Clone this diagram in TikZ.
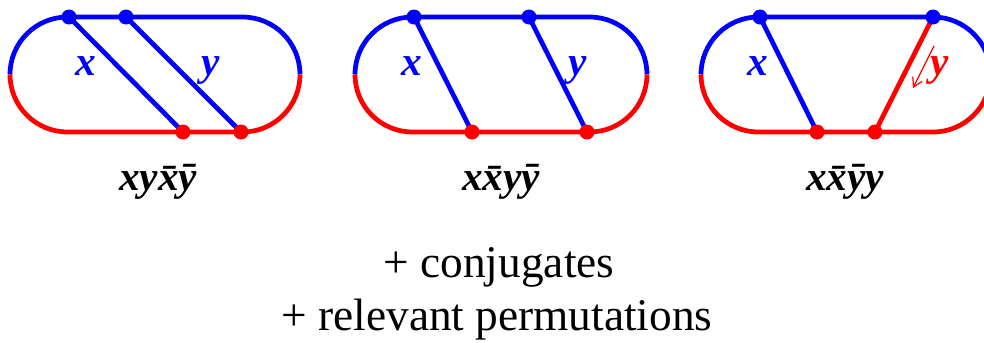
\documentclass[tikz,border=0pt]{standalone}
\usepackage{fontspec}
\setmainfont{Liberation Serif}
\usetikzlibrary{arrows.meta}
\begin{document}
\begin{tikzpicture}[x=0.02cm,y=0.02cm,every node/.style={font=\fontsize{23.5}{28}\selectfont\bfseries\itshape,inner sep=0pt}]
  \useasboundingbox (0,0) rectangle (984,-342);
  \tikzset{band/.style={line width=2.7pt}}
  % first loop
  \draw[band,blue] (10,-74.5) arc (180:90:1.15cm) -- (242.5,-17) arc (90:0:1.15cm);
  \draw[band,red] (10,-74.5) arc (180:270:1.15cm) -- (242.5,-132) arc (270:360:1.15cm);
  \coordinate (p1) at (69,-17); \coordinate (q1) at (126,-17);
  \coordinate (r1) at (183,-132); \coordinate (s1) at (241,-132);
  \draw[band,blue] (p1) -- (r1); \draw[band,blue] (q1) -- (s1);
  \fill[blue] (p1) circle[radius=0.15cm] (q1) circle[radius=0.15cm];
  \fill[red] (r1) circle[radius=0.15cm] (s1) circle[radius=0.15cm];
  \node[blue,anchor=base] (x1) at (86,-75) {x};
  \node[blue,anchor=base] (y1) at (211,-75) {y};
  \node[anchor=base] (w1) at (158,-190) {xy\={x}\={y}};
  % second loop
  \draw[band,blue] (355,-74.5) arc (180:90:1.15cm) -- (589.5,-17) arc (90:0:1.15cm);
  \draw[band,red] (355,-74.5) arc (180:270:1.15cm) -- (589.5,-132) arc (270:360:1.15cm);
  \coordinate (p2) at (414,-17); \coordinate (q2) at (529,-17);
  \coordinate (r2) at (472,-132); \coordinate (s2) at (587,-132);
  \draw[band,blue] (p2) -- (r2); \draw[band,blue] (q2) -- (s2);
  \fill[blue] (p2) circle[radius=0.15cm] (q2) circle[radius=0.15cm];
  \fill[red] (r2) circle[radius=0.15cm] (s2) circle[radius=0.15cm];
  \node[blue,anchor=base] (x2) at (412,-75) {x};
  \node[blue,anchor=base] (y2) at (578,-75) {y};
  \node[anchor=base] (w2) at (501,-190) {x\={x}y\={y}};
  % third loop
  \draw[band,blue] (701,-74.5) arc (180:90:1.15cm) -- (933,-17) arc (90:0:1.15cm);
  \draw[band,red] (701,-74.5) arc (180:270:1.15cm) -- (933,-132) arc (270:360:1.15cm);
  \coordinate (p3) at (760,-17); \coordinate (q3) at (933,-17);
  \coordinate (r3) at (817,-132); \coordinate (s3) at (875,-132);
  \draw[band,blue] (p3) -- (r3); \draw[band,red] (q3) -- (s3);
  \fill[blue] (p3) circle[radius=0.15cm] (q3) circle[radius=0.15cm];
  \fill[red] (r3) circle[radius=0.15cm] (s3) circle[radius=0.15cm];
  \node[blue,anchor=base] (x3) at (758,-75) {x};
  \node[red,anchor=base] (y3) at (940,-75) {y};
  \coordinate (t3) at (934,-46); \coordinate (u3) at (913,-88);
  \draw[-{Straight Barb[length=5pt,width=6pt]},red,line width=0.7pt] (t3) -- (u3);
  \node[anchor=base] (w3) at (845,-190) {x\={x}\={y}y};
  % remarks
  \node[font=\fontsize{25.8}{31}\selectfont,anchor=base] (conj) at (499,-277) {+ conjugates};
  \node[font=\fontsize{25.8}{31}\selectfont,anchor=base] (perm) at (497,-330) {+ relevant permutations};
\end{tikzpicture}
\end{document}
